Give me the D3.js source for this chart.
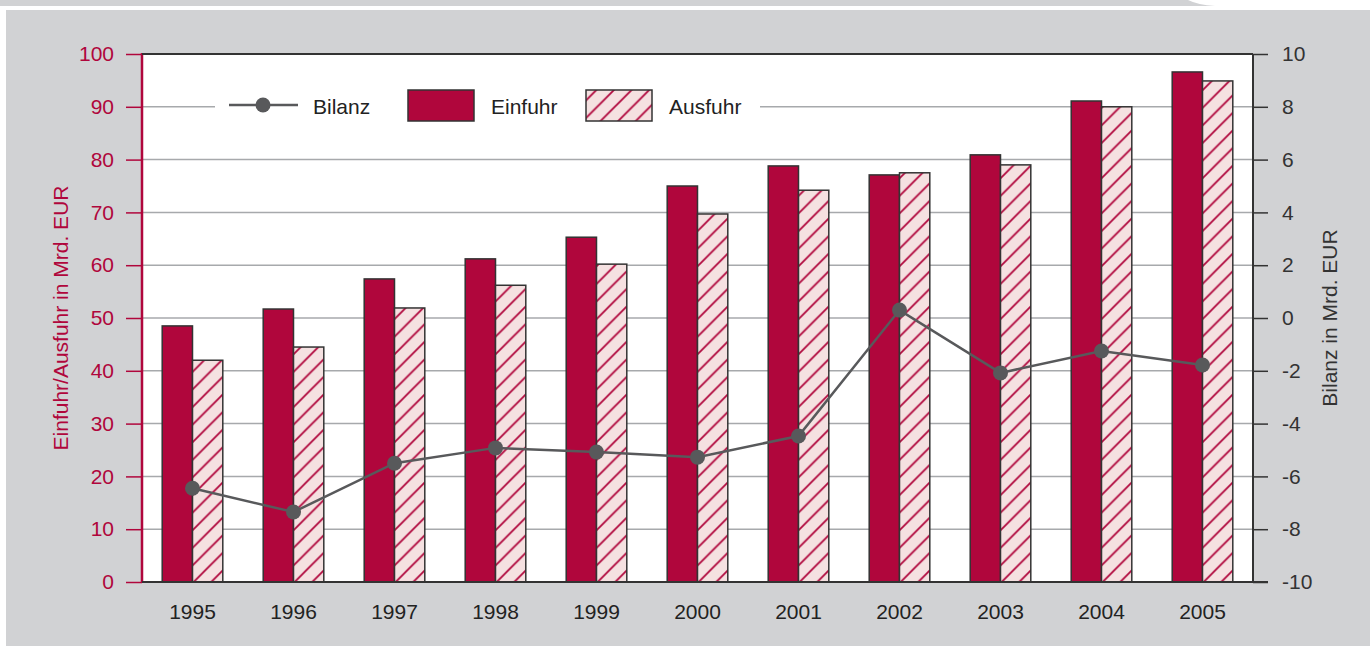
<!DOCTYPE html>
<html>
<head>
<meta charset="utf-8">
<script src="https://cdn.jsdelivr.net/npm/d3@7"></script>
<style>
  html, body { margin: 0; padding: 0; background: #fff; }
  svg { display: block; font-family: "Liberation Sans", Arial, sans-serif; }
</style>
</head>
<body>
<div id="chart"></div>
<script>
// data
var years = ["1995", "1996", "1997", "1998", "1999", "2000", "2001", "2002", "2003", "2004", "2005"];
var einfuhr = [48.5, 51.7, 57.4, 61.2, 65.3, 75.0, 78.8, 77.1, 80.9, 91.1, 96.6];
var ausfuhr = [42.0, 44.5, 51.9, 56.2, 60.2, 69.7, 74.2, 77.5, 79.0, 90.0, 94.9];
var bilanz = [-6.45, -7.35, -5.5, -4.92, -5.08, -5.27, -4.47, 0.3, -2.08, -1.25, -1.78];
var leftTicks = [0, 10, 20, 30, 40, 50, 60, 70, 80, 90, 100];
var rightTicks = [-10, -8, -6, -4, -2, 0, 2, 4, 6, 8, 10];

var W = 1370, H = 646,
    pLeft = 142, pRight = 1253, pTop = 54, pBottom = 582,
    crimson = "#b0063c", dark = "#333", grey = "#58595b",
    fs = "21px";

var svg = d3.select("#chart").append("svg")
    .attr("width", W).attr("height", H);

// pattern for Ausfuhr
var defs = svg.append("defs");
var pat = defs.append("pattern")
    .attr("id", "hatch")
    .attr("patternUnits", "userSpaceOnUse")
    .attr("width", 17.6).attr("height", 17.6);
pat.append("rect").attr("width", 17.6).attr("height", 17.6).attr("fill", "#f5e1e1");
pat.append("path")
    .attr("d", "M0,17.6 L17.6,0 M-4.4,4.4 L4.4,-4.4 M13.2,22 L22,13.2")
    .attr("stroke", crimson).attr("stroke-width", 1.8);

// backgrounds
svg.append("rect").attr("x", 0).attr("y", 0).attr("width", W).attr("height", 6).attr("fill", "#d1d2d4");
svg.append("path")
    .attr("d", "M1188,0 L1370,0 L1370,6 L1215,6 Q1198,5 1188,0 Z")
    .attr("fill", "#fff");
svg.append("rect").attr("x", 6).attr("y", 10).attr("width", W - 6).attr("height", H - 10).attr("fill", "#d1d2d4");
svg.append("rect").attr("x", pLeft).attr("y", pTop).attr("width", pRight - pLeft).attr("height", pBottom - pTop).attr("fill", "#fff");

var x = d3.scaleBand().domain(years).range([pLeft, pRight]).padding(0);
var xs = d3.scaleBand().domain(["Einfuhr", "Ausfuhr"])
    .range([x.bandwidth() * 0.2, x.bandwidth() * 0.8]).padding(0);
var y = d3.scaleLinear().domain([0, 100]).range([pBottom, pTop]);
var y2 = d3.scaleLinear().domain([-10, 10]).range([pBottom, pTop]);

// gridlines
svg.append("g").selectAll("line")
    .data(leftTicks.slice(1, -1))
    .enter().append("line")
    .attr("x1", pLeft).attr("x2", pRight)
    .attr("y1", function(d) { return y(d); })
    .attr("y2", function(d) { return y(d); })
    .attr("stroke", "#a7a9ac").attr("stroke-width", 1.5);

// legend background hides the grid line
svg.append("rect").attr("x", 215).attr("y", 86).attr("width", 545).attr("height", 40).attr("fill", "#fff");

// bars
var rows = years.map(function(yr, i) {
    return { year: yr, Einfuhr: einfuhr[i], Ausfuhr: ausfuhr[i] };
});
var groups = svg.append("g").selectAll("g")
    .data(rows)
    .enter().append("g")
    .attr("transform", function(d) { return "translate(" + x(d.year) + ",0)"; });

groups.append("rect")
    .attr("x", xs("Einfuhr"))
    .attr("y", function(d) { return y(d.Einfuhr); })
    .attr("width", xs.bandwidth())
    .attr("height", function(d) { return pBottom - y(d.Einfuhr); })
    .attr("fill", crimson).attr("stroke", dark).attr("stroke-width", 1.5);

groups.append("rect")
    .attr("x", xs("Ausfuhr"))
    .attr("y", function(d) { return y(d.Ausfuhr); })
    .attr("width", xs.bandwidth())
    .attr("height", function(d) { return pBottom - y(d.Ausfuhr); })
    .attr("fill", "url(#hatch)").attr("stroke", dark).attr("stroke-width", 1.5);

// Bilanz line
var line = d3.line()
    .x(function(d, i) { return x(years[i]) + x.bandwidth() / 2; })
    .y(function(d) { return y2(d); });

svg.append("path")
    .datum(bilanz)
    .attr("d", line)
    .attr("fill", "none").attr("stroke", grey).attr("stroke-width", 2.5);

svg.append("g").selectAll("circle")
    .data(bilanz)
    .enter().append("circle")
    .attr("cx", function(d, i) { return x(years[i]) + x.bandwidth() / 2; })
    .attr("cy", function(d) { return y2(d); })
    .attr("r", 7.5)
    .attr("fill", grey);

// axes
var yAxis = d3.axisLeft(y).tickValues(leftTicks).tickSize(16).tickPadding(12);
var gl = svg.append("g")
    .attr("transform", "translate(" + pLeft + ",0)")
    .call(yAxis);
gl.select(".domain").attr("stroke", crimson).attr("stroke-width", 2.5).attr("d", "M0," + pBottom + "V" + (pTop - 1));
gl.selectAll(".tick line").attr("stroke", crimson).attr("stroke-width", 1.5);
gl.selectAll(".tick text").attr("fill", crimson)
    .style("font-size", fs).style("font-family", "Liberation Sans, Arial, sans-serif");

var yAxis2 = d3.axisRight(y2).tickValues(rightTicks).tickSize(15).tickPadding(14)
    .tickFormat(function(d) { return String(d); });
var gr = svg.append("g")
    .attr("transform", "translate(" + pRight + ",0)")
    .call(yAxis2);
gr.select(".domain").attr("stroke", dark).attr("stroke-width", 2).attr("d", "M0," + pBottom + "V" + pTop);
gr.selectAll(".tick line").attr("stroke", dark).attr("stroke-width", 1.5);
gr.selectAll(".tick text").attr("fill", dark)
    .style("font-size", fs).style("font-family", "Liberation Sans, Arial, sans-serif");

var xAxis = d3.axisBottom(x).tickSize(0).tickPadding(22);
var gx = svg.append("g")
    .attr("transform", "translate(0," + pBottom + ")")
    .call(xAxis);
gx.select(".domain").remove();
gx.selectAll(".tick text").attr("fill", "#222")
    .style("font-size", fs).style("font-family", "Liberation Sans, Arial, sans-serif");

// frame lines
svg.append("line").attr("x1", pLeft).attr("x2", pRight + 15).attr("y1", pBottom).attr("y2", pBottom)
    .attr("stroke", dark).attr("stroke-width", 2);
svg.append("line").attr("x1", pLeft).attr("x2", pRight).attr("y1", pTop).attr("y2", pTop)
    .attr("stroke", dark).attr("stroke-width", 2);

// axis titles
svg.append("text")
    .attr("transform", "translate(68," + ((pTop + pBottom) / 2) + ") rotate(-90)")
    .attr("text-anchor", "middle")
    .attr("fill", crimson).style("font-size", fs)
    .text("Einfuhr/Ausfuhr in Mrd. EUR");

svg.append("text")
    .attr("transform", "translate(1337," + ((pTop + pBottom) / 2) + ") rotate(-90)")
    .attr("text-anchor", "middle")
    .attr("fill", dark).style("font-size", fs)
    .text("Bilanz in Mrd. EUR");

// legend
var lg = svg.append("g");
lg.append("line").attr("x1", 229).attr("x2", 298).attr("y1", 105).attr("y2", 105)
    .attr("stroke", grey).attr("stroke-width", 2.5);
lg.append("circle").attr("cx", 263).attr("cy", 105).attr("r", 7.5).attr("fill", grey);
lg.append("text").attr("x", 313).attr("y", 114).attr("fill", "#222").style("font-size", fs).text("Bilanz");

lg.append("rect").attr("x", 408).attr("y", 90).attr("width", 66).attr("height", 31)
    .attr("fill", crimson).attr("stroke", dark).attr("stroke-width", 1.5);
lg.append("text").attr("x", 491).attr("y", 114).attr("fill", "#222").style("font-size", fs).text("Einfuhr");

lg.append("rect").attr("x", 586).attr("y", 90).attr("width", 66).attr("height", 31)
    .attr("fill", "url(#hatch)").attr("stroke", dark).attr("stroke-width", 1.5);
lg.append("text").attr("x", 669).attr("y", 114).attr("fill", "#222").style("font-size", fs).text("Ausfuhr");
</script>
</body>
</html>
